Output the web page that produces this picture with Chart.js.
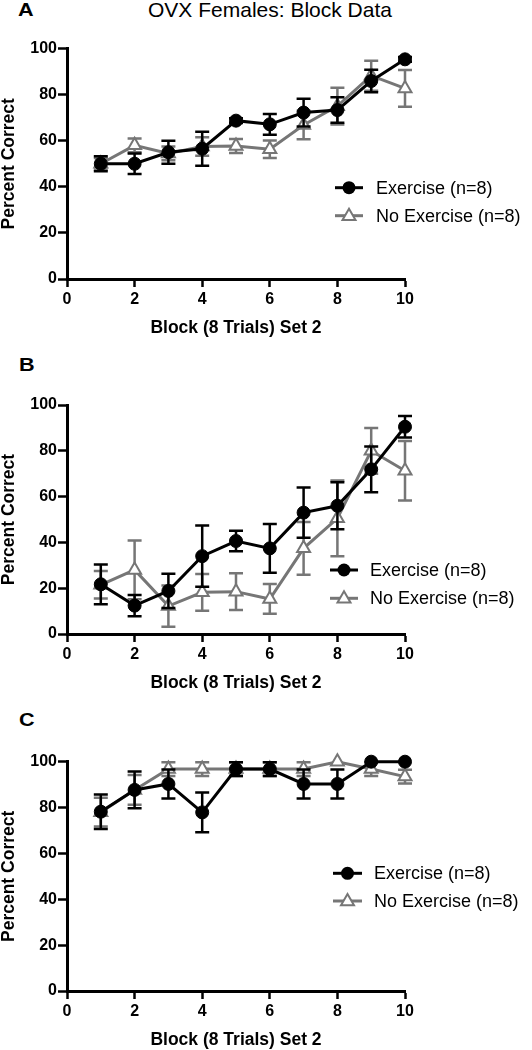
<!DOCTYPE html>
<html><head><meta charset="utf-8">
<script src="https://cdn.jsdelivr.net/npm/chart.js@4.4.1/dist/chart.umd.min.js"></script>
<style>
body{margin:0;background:#fff;width:532px;height:1050px;position:relative;overflow:hidden;font-family:"Liberation Sans",Arial,sans-serif;}
canvas{position:absolute;left:0;}
.lbl{position:absolute;font-weight:bold;font-size:18px;line-height:18px;color:#000;transform:scaleX(1.2);transform-origin:left top;}
#title{position:absolute;top:0;left:0;width:540px;text-align:center;font-size:21px;line-height:20px;color:#000;}
</style></head><body>
<div id="title">OVX Females: Block Data</div>
<div class="lbl" style="left:18px;top:1px">A</div>
<div class="lbl" style="left:19px;top:356px">B</div>
<div class="lbl" style="left:19px;top:711px">C</div>
<canvas id="cA" width="532" height="337" style="top:0px"></canvas>
<canvas id="cB" width="532" height="352" style="top:340px"></canvas>
<canvas id="cC" width="532" height="349" style="top:700px"></canvas>
<script>
// ---- data ----
const blocks = [1,2,3,4,5,6,7,8,9,10];
const xTickValues = [0,2,4,6,8,10];
const yTickValues = [0,20,40,60,80,100];
const seriesNames = ['Exercise (n=8)', 'No Exercise (n=8)'];
const xTitle = 'Block (8 Trials) Set 2';
const yTitle = 'Percent Correct';

const aExercise    = [50, 50, 55, 56.5, 68.7, 67.1, 72.2, 73.3, 85.9, 95.3];
const aExerciseErr = [3.3, 4.5, 5, 7.4, 1, 4.5, 6, 5.5, 4.9, 1];
const aNoEx        = [50, 58, 54.5, 57.5, 57.7, 56.3, 66.8, 75, 88.2, 82.7];
const aNoExErr     = [2.5, 3, 3, 4, 3, 3.8, 6.2, 8, 6.5, 8];

const bExercise    = [21.7, 12.4, 18.8, 34, 40.6, 37.4, 53, 56, 71.9, 90.5];
const bExerciseErr = [8.7, 4.6, 7.5, 13.4, 4.5, 10.6, 11, 10.3, 10, 4.7];
const bNoEx        = [21.5, 28, 12.2, 18.2, 18.5, 15.3, 37.4, 50.5, 80, 71.3];
const bNoExErr     = [6, 12.8, 9, 8, 8, 6.5, 11.5, 16.5, 10, 13];

const cExercise    = [78.2, 87.7, 90.3, 77.9, 96.8, 96.8, 90.3, 90.3, 100, 100];
const cExerciseErr = [7.5, 8, 6.3, 8.7, 3, 3, 6.3, 6.3, 0, 0];
const cNoEx        = [78, 87.7, 96.8, 96.8, 96.8, 96.8, 96.8, 100, 96.8, 93.5];
const cNoExErr     = [6.3, 6.5, 3, 3, 3, 3, 3, 0, 3, 3];

// ---- styles ----
const BLACK = '#000000';
const GREY = '#767676';
const FONT = '"Liberation Sans", Arial, sans-serif';

function toPoints(vals){ return blocks.map((b,i)=>({x:b, y:vals[i]})); }

function drawTri(ctx, x, y, r, fill, stroke, lw){
  ctx.beginPath();
  ctx.moveTo(x, y - r);
  ctx.lineTo(x + 0.866*r, y + 0.5*r);
  ctx.lineTo(x - 0.866*r, y + 0.5*r);
  ctx.closePath();
  ctx.fillStyle = fill; ctx.fill();
  ctx.strokeStyle = stroke; ctx.lineWidth = lw; ctx.stroke();
}

const errorBarPlugin = {
  id: 'errbars',
  beforeDatasetDraw(chart, args){
    const ds = chart.data.datasets[args.index];
    if (!ds.errors) return;
    const ctx = chart.ctx, x = chart.scales.x, y = chart.scales.y;
    ctx.save();
    ctx.strokeStyle = ds.borderColor;
    ctx.lineWidth = 2.5;
    ds.data.forEach((p, j) => {
      const e = ds.errors[j];
      if (!e) return;
      const px = x.getPixelForValue(p.x);
      const yt = y.getPixelForValue(p.y + e), yb = y.getPixelForValue(p.y - e);
      ctx.beginPath();
      ctx.moveTo(px, yt); ctx.lineTo(px, yb);
      ctx.moveTo(px - 7, yt); ctx.lineTo(px + 7, yt);
      ctx.moveTo(px - 7, yb); ctx.lineTo(px + 7, yb);
      ctx.stroke();
    });
    ctx.restore();
  }
};

const legendPlugin = {
  id: 'customLegend',
  afterDraw(chart){
    const o = chart.options.plugins.customLegend;
    if (!o) return;
    const ctx = chart.ctx;
    ctx.save();
    const rows = [
      {y: o.y1, color: BLACK, shape: 'circle', text: seriesNames[0]},
      {y: o.y2, color: GREY, shape: 'triangle', text: seriesNames[1]}
    ];
    rows.forEach(r => {
      ctx.strokeStyle = r.color; ctx.lineWidth = 3;
      ctx.beginPath(); ctx.moveTo(o.x1, r.y); ctx.lineTo(o.x2, r.y); ctx.stroke();
      const cx = (o.x1 + o.x2)/2;
      if (r.shape === 'circle'){
        ctx.beginPath(); ctx.arc(cx, r.y, 6.5, 0, Math.PI*2);
        ctx.fillStyle = BLACK; ctx.fill();
      } else {
        drawTri(ctx, cx, r.y + 0.5, 7.5, '#ffffff', GREY, 2);
      }
      ctx.fillStyle = '#000';
      ctx.font = '18px ' + FONT;
      ctx.textBaseline = 'middle';
      ctx.textAlign = 'left';
      ctx.fillText(r.text, o.tx, r.y + 1);
    });
    ctx.restore();
  }
};

function makePanel(id, ex, exErr, no, noErr, padTop, leg){
  const tickFont = {family: FONT, size: 16, weight: 'bold'};
  const titleFont = {family: FONT, size: 17.5, weight: 'bold', lineHeight: 1};
  new Chart(document.getElementById(id), {
    type: 'line',
    data: {
      datasets: [
        {
          label: seriesNames[0], data: toPoints(ex), errors: exErr,
          borderColor: BLACK, backgroundColor: BLACK, borderWidth: 3,
          pointStyle: 'circle', pointRadius: 6.5, pointBackgroundColor: BLACK,
          pointBorderColor: BLACK, pointBorderWidth: 1, clip: false, tension: 0
        },
        {
          label: seriesNames[1], data: toPoints(no), errors: noErr,
          borderColor: GREY, backgroundColor: '#ffffff', borderWidth: 3,
          pointStyle: 'triangle', pointRadius: 7.5, pointBackgroundColor: '#ffffff',
          pointBorderColor: GREY, pointBorderWidth: 2, clip: false, tension: 0
        }
      ]
    },
    options: {
      responsive: false, animation: false, events: [],
      layout: {padding: {top: padTop, right: 127, bottom: 0, left: 0}},
      plugins: {
        legend: {display: false}, tooltip: {enabled: false}, title: {display: false},
        customLegend: leg
      },
      scales: {
        x: {
          type: 'linear', min: 0, max: 10,
          afterBuildTicks: s => { s.ticks = xTickValues.map(v => ({value: v})); },
          ticks: {font: tickFont, color: '#000', padding: 3, maxRotation: 0},
          grid: {display: true, drawOnChartArea: false, drawTicks: true, tickLength: 8, tickWidth: 2.5, tickColor: '#000'},
          border: {display: true, color: '#000', width: 3},
          title: {display: true, text: xTitle, font: titleFont, color: '#000', padding: 0},
          afterFit: s => { s.height = 58; }
        },
        y: {
          type: 'linear', min: 0, max: 100,
          afterBuildTicks: s => { s.ticks = yTickValues.map(v => ({value: v})); },
          ticks: {font: tickFont, color: '#000', padding: 1},
          grid: {display: true, drawOnChartArea: false, drawTicks: true, tickLength: 9, tickWidth: 2.5, tickColor: '#000'},
          border: {display: true, color: '#000', width: 3},
          title: {display: true, text: yTitle, font: titleFont, color: '#000', padding: 0},
          afterFit: s => { s.width = 67; }
        }
      }
    },
    plugins: [errorBarPlugin, legendPlugin]
  });
}

makePanel('cA', aExercise, aExerciseErr, aNoEx, aNoExErr, 48.5, {x1: 335, x2: 363, tx: 376, y1: 187.7, y2: 215.7});
makePanel('cB', bExercise, bExerciseErr, bNoEx, bNoExErr, 65, {x1: 330, x2: 358, tx: 370, y1: 230, y2: 258.3});
makePanel('cC', cExercise, cExerciseErr, cNoEx, cNoExErr, 61.7, {x1: 333, x2: 362, tx: 374, y1: 173.3, y2: 201});
</script>
</body></html>
